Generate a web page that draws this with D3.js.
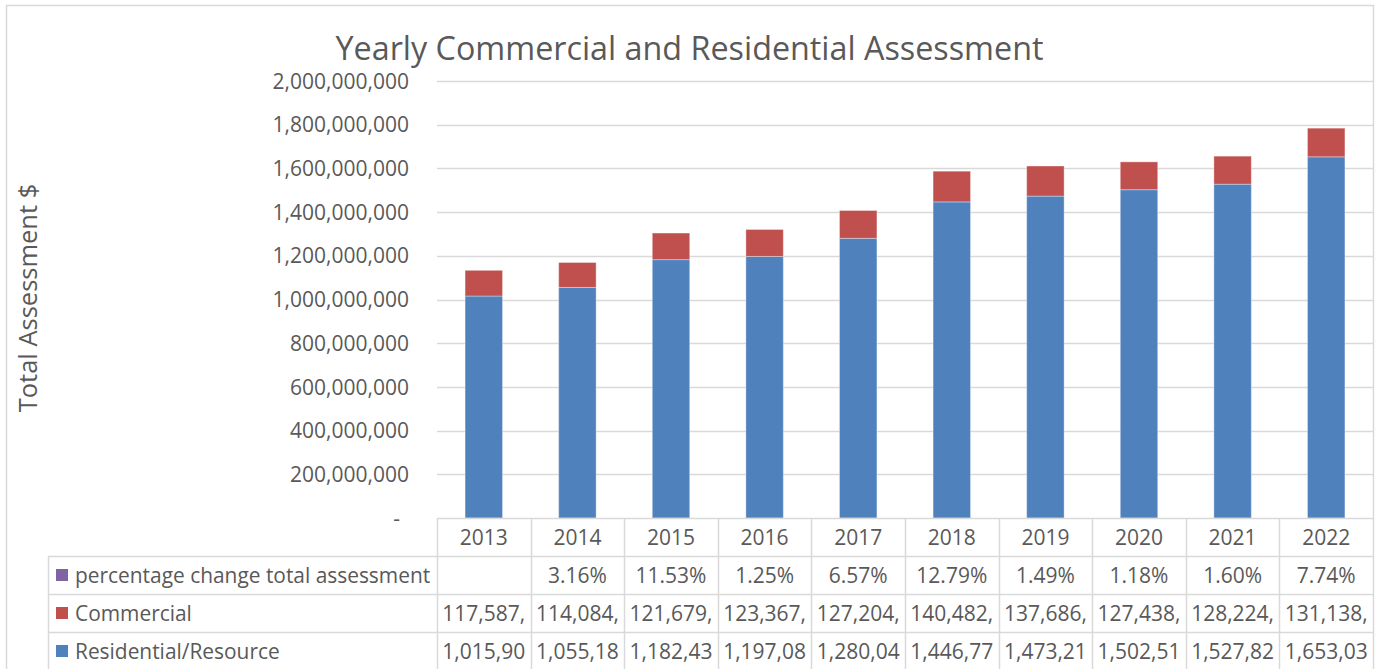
<!DOCTYPE html>
<html>
<head>
<meta charset="utf-8">
<script src="https://cdn.jsdelivr.net/npm/d3@7/dist/d3.min.js"></script>
<style>
  html, body { margin: 0; padding: 0; background: #fff; }
  svg { display: block; font-family: "Open Sans", Lato, sans-serif; }
</style>
</head>
<body>
<svg id="chart" width="1385" height="669"></svg>
<script>
// ---- data ----
const years = ['2013', '2014', '2015', '2016', '2017', '2018', '2019', '2020', '2021', '2022'];
const residential = [1015900000, 1055180000, 1182430000, 1197080000, 1280040000, 1446770000, 1473210000, 1502510000, 1527820000, 1653030000];
const commercial = [117587000, 114084000, 121679000, 123367000, 127204000, 140482000, 137686000, 127438000, 128224000, 131138000];
const pctChange = [null, 3.16, 11.53, 1.25, 6.57, 12.79, 1.49, 1.18, 1.60, 7.74];
const yTicks = [0, 200000000, 400000000, 600000000, 800000000, 1000000000, 1200000000, 1400000000, 1600000000, 1800000000, 2000000000];
const legendNames = ['percentage change total assessment', 'Commercial', 'Residential/Resource'];
const legendColors = ['#8064A2', '#C0504D', '#4F81BD'];

const textColor = '#595959';
const gridColor = '#D9D9D9';

const svg = d3.select('#chart');

// Chart-Rahmen
const frame = { left: 6, top: 5, right: 1373, bottom: 700 };
svg.append('rect')
  .attr('x', frame.left + 0.5).attr('y', frame.top + 0.5)
  .attr('width', frame.right - frame.left).attr('height', frame.bottom - frame.top)
  .attr('fill', '#fff').attr('stroke', gridColor).attr('stroke-width', 1.5);

const plot = { left: 437, right: 1373, top: 81, bottom: 518 };

const x = d3.scaleBand().domain(years).range([plot.left, plot.right]).paddingInner(0.6).paddingOuter(0.3);
const xCol = d3.scaleBand().domain(years).range([plot.left, plot.right]).padding(0);
const y = d3.scaleLinear().domain([0, 2000000000]).range([plot.bottom, plot.top]);

// grid
svg.append('g').attr('class', 'grid')
  .selectAll('line')
  .data(yTicks.filter(d => d > 0))
  .join('line')
  .attr('x1', plot.left).attr('x2', plot.right)
  .attr('y1', d => Math.round(y(d)) + 0.5).attr('y2', d => Math.round(y(d)) + 0.5)
  .attr('stroke', gridColor).attr('stroke-width', 1.5);

// y axis (no domain line, no tick marks)
const fmtInt = d3.format(',.0f');
const yAxis = d3.axisLeft(y).tickValues(yTicks).tickSize(0).tickPadding(0)
  .tickFormat(d => d === 0 ? '-' : fmtInt(d));
svg.append('g')
  .attr('transform', `translate(409,0)`)
  .call(yAxis)
  .call(g => {
    g.select('.domain').remove();
    g.selectAll('.tick text')
      .attr('fill', textColor)
      .attr('font-size', 21)
      .attr('font-family', '"Open Sans", sans-serif')
      .attr('dy', '0.34em');
    g.selectAll('.tick').filter(d => d === 0).select('text').attr('dx', -9);
  });

// stacked bars
const rows = years.map((yr, i) => ({ year: yr, residential: residential[i], commercial: commercial[i] }));
const stack = d3.stack().keys(['residential', 'commercial'])(rows);
const barColors = { residential: '#4F81BD', commercial: '#C0504D' };

svg.append('g').attr('class', 'bars')
  .selectAll('g')
  .data(stack)
  .join('g')
  .attr('fill', d => barColors[d.key])
  .selectAll('rect')
  .data(d => d)
  .join('rect')
  .attr('x', d => x(d.data.year))
  .attr('width', x.bandwidth())
  .attr('y', d => y(d[1]))
  .attr('height', d => y(d[0]) - y(d[1]))
  .attr('stroke', '#ffffff')
  .attr('stroke-opacity', 0.35)
  .attr('stroke-width', 1);

// ---- Datentabelle ----
const rowTop = [518, 556, 594, 632];
const rowH = 38;
const legendLeft = 48;
const tableBottom = rowTop[3] + rowH;
const table = svg.append('g').attr('class', 'table');

// horizontal lines
table.append('line')
  .attr('x1', plot.left).attr('x2', plot.right)
  .attr('y1', rowTop[0] + 0.5).attr('y2', rowTop[0] + 0.5);
rowTop.slice(1).concat([tableBottom]).forEach(t => {
  table.append('line')
    .attr('x1', legendLeft).attr('x2', plot.right)
    .attr('y1', t + 0.5).attr('y2', t + 0.5);
});
// vertical lines
table.append('line')
  .attr('x1', legendLeft + 0.5).attr('x2', legendLeft + 0.5)
  .attr('y1', rowTop[1]).attr('y2', tableBottom);
table.selectAll('line.col')
  .data(years)
  .join('line')
  .attr('class', 'col')
  .attr('x1', d => Math.round(xCol(d)) + 0.5).attr('x2', d => Math.round(xCol(d)) + 0.5)
  .attr('y1', rowTop[0]).attr('y2', tableBottom);
table.selectAll('line').attr('stroke', gridColor).attr('stroke-width', 1.5);

const cellFont = 21;

// header row: years
table.selectAll('text.year')
  .data(years)
  .join('text')
  .attr('class', 'year')
  .attr('x', d => xCol(d) + xCol.bandwidth() / 2)
  .attr('y', rowTop[0] + rowH / 2)
  .attr('dy', '0.36em')
  .attr('text-anchor', 'middle')
  .attr('font-size', cellFont)
  .attr('fill', textColor)
  .text(d => d);

// legend cells
const leg = table.selectAll('g.legend')
  .data(legendNames)
  .join('g')
  .attr('class', 'legend')
  .attr('transform', (d, i) => `translate(${legendLeft}, ${rowTop[i + 1]})`);
leg.append('rect')
  .attr('x', 8).attr('y', rowH / 2 - 6)
  .attr('width', 12).attr('height', 12)
  .attr('fill', (d, i) => legendColors[i]);
leg.append('text')
  .attr('x', 27).attr('y', rowH / 2)
  .attr('dy', '0.36em')
  .attr('font-size', 20.9)
  .attr('fill', textColor)
  .text(d => d);

// value cells, text clipped the way Excel cuts it
const fmtPct = d => d == null ? '' : d.toFixed(2) + '%';
const cellRows = [
  pctChange.map(fmtPct),
  commercial.map(fmtInt),
  residential.map(fmtInt)
];
const maxW = xCol.bandwidth() - 4;

cellRows.forEach((vals, r) => {
  table.selectAll(`text.cell-${r}`)
    .data(vals)
    .join('text')
    .attr('class', `cell-${r}`)
    .attr('x', (d, i) => xCol(years[i]) + xCol.bandwidth() / 2)
    .attr('y', rowTop[r + 1] + rowH / 2)
    .attr('dy', '0.36em')
    .attr('text-anchor', 'middle')
    .attr('font-size', cellFont)
    .attr('fill', textColor)
    .text(d => d)
    .each(function (d) {
      const el = d3.select(this);
      let s = d;
      while (s.length > 0 && this.getComputedTextLength() > maxW) {
        s = s.slice(0, -1);
        el.text(s);
      }
    });
});

// Titel
svg.append('text')
  .attr('x', (frame.left + frame.right) / 2)
  .attr('y', 60)
  .attr('text-anchor', 'middle')
  .attr('font-size', 32.3)
  .attr('fill', textColor)
  .text('Yearly Commercial and Residential Assessment');

// Achsentitel
svg.append('text')
  .attr('transform', 'translate(37, 298) rotate(-90)')
  .attr('text-anchor', 'middle')
  .attr('font-size', 25.5)
  .attr('fill', textColor)
  .text('Total Assessment $');
</script>
</body>
</html>
